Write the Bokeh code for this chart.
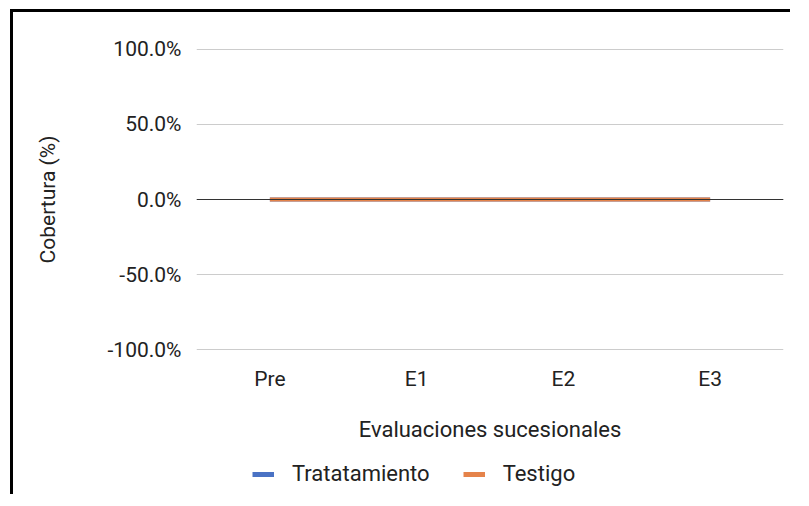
from bokeh.plotting import figure
from bokeh.layouts import column
from bokeh.models import NumeralTickFormatter, Span, Legend, LegendItem, FixedTicker, Range1d
from bokeh.embed import file_html
from bokeh.resources import INLINE

categories = ["Pre", "E1", "E2", "E3"]
tratamiento = [0.0, 0.0, 0.0, 0.0]
testigo = [0.0, 0.0, 0.0, 0.0]
y_ticks = [-1.0, -0.5, 0.0, 0.5, 1.0]
series_names = ["Tratatamiento", "Testigo"]
series_colors = ["#4a72c4", "#e5834a"]

FONT = "Roboto"
TXT = "#222222"
FS = "21px"
FS_BIG = "22px"

p = figure(x_range=categories, y_range=Range1d(-1.004, 1.004), width=777, height=438,
           output_backend="svg", toolbar_location=None,
           min_border_left=183, min_border_right=7, min_border_top=36, min_border_bottom=100)
p.outline_line_color = None
p.background_fill_color = "white"

p.xgrid.grid_line_color = None
p.ygrid.grid_line_color = "#cccccc"
p.ygrid.grid_line_width = 1
p.yaxis.ticker = FixedTicker(ticks=y_ticks)
p.yaxis.formatter = NumeralTickFormatter(format="0.0%")

for ax in (p.xaxis[0], p.yaxis[0]):
    ax.axis_line_color = None
    ax.major_tick_line_color = None
    ax.minor_tick_line_color = None
    ax.major_label_text_font = FONT
    ax.major_label_text_font_size = FS
    ax.major_label_text_color = TXT
    ax.axis_label_text_font = FONT
    ax.axis_label_text_font_size = FS
    ax.axis_label_text_font_style = "normal"
    ax.axis_label_text_color = TXT

p.xaxis.axis_label_text_font_size = FS_BIG
p.yaxis.axis_label = "Cobertura (%)"
p.xaxis.axis_label = "Evaluaciones sucesionales"
p.yaxis.major_label_standoff = 9
p.yaxis.axis_label_standoff = 45
p.xaxis.major_label_standoff = 10
p.xaxis.axis_label_standoff = 23

p.add_layout(Span(location=0, dimension="width", line_color="#333333", line_width=1))

r1 = p.line(categories, tratamiento, line_color=series_colors[0], line_width=4)
r2 = p.line(categories, testigo, line_color=series_colors[1], line_width=4)

# legend strip below the chart
lg = figure(width=777, height=44, output_backend="svg", toolbar_location=None,
            x_range=Range1d(0, 1), y_range=Range1d(0, 1),
            min_border=0, min_border_left=0, min_border_right=0, min_border_top=0, min_border_bottom=0)
lg.axis.visible = False
lg.grid.visible = False
lg.outline_line_color = None
l1 = lg.line([-5, -4], [-5, -4], line_color=series_colors[0], line_width=5)
l2 = lg.line([-5, -4], [-5, -4], line_color=series_colors[1], line_width=5)
legend = Legend(items=[LegendItem(label=series_names[0], renderers=[l1]),
                       LegendItem(label=series_names[1], renderers=[l2])],
                orientation="horizontal", location=(56, 8),
                label_text_font=FONT, label_text_font_size=FS_BIG, label_text_color=TXT,
                glyph_width=22, glyph_height=14, spacing=33, label_standoff=18,
                border_line_color=None, background_fill_alpha=0, padding=0, margin=0)
lg.add_layout(legend, "center")

layout = column(p, lg, spacing=0)
layout.styles = {"margin-left": "10px", "margin-top": "9px",
                 "border-top": "3px solid black", "border-left": "3px solid black"}

open("out.html", "w").write(file_html(layout, INLINE))
